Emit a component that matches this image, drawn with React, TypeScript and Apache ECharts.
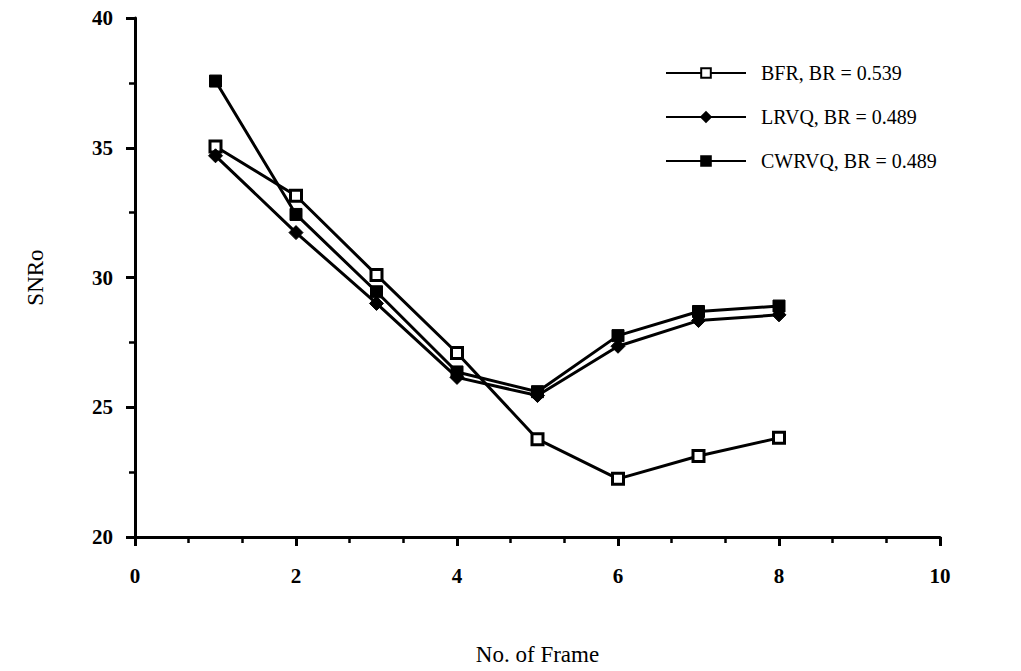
import React, { useEffect, useRef } from "react";
import * as echarts from "echarts";

const frames = [1, 2, 3, 4, 5, 6, 7, 8];
const bfr = [35.05, 33.15, 30.1, 27.09, 23.77, 22.24, 23.12, 23.82];
const lrvq = [34.69, 31.73, 29.0, 26.15, 25.45, 27.35, 28.34, 28.56];
const cwrvq = [37.57, 32.43, 29.45, 26.36, 25.6, 27.76, 28.69, 28.9];
const seriesNames = ["BFR, BR = 0.539", "LRVQ, BR = 0.489", "CWRVQ, BR = 0.489"];

const FONT = "Liberation Serif";

export default function App() {
  const ref = useRef<HTMLDivElement>(null);
  useEffect(() => {
    if (!ref.current) return;
    const chart = echarts.init(ref.current, null, { renderer: "svg" });
    const pts = (vals: number[]) => frames.map((f, i) => [f, vals[i]]);
    const lineStyle = { color: "#000", width: 3 };
    chart.setOption({
      animation: false,
      backgroundColor: "#fff",
      grid: { left: 135, right: 81, top: 18, bottom: 128 },
      legend: {
        orient: "vertical",
        left: 660,
        top: 58,
        itemWidth: 80,
        itemHeight: 12,
        itemGap: 24,
        textStyle: { fontFamily: FONT, fontSize: 20, color: "#000", padding: [0, 0, 0, 10] },
        data: seriesNames,
      },
      xAxis: {
        type: "value",
        min: 0,
        max: 10,
        interval: 2,
        name: "No. of Frame",
        nameLocation: "middle",
        nameGap: 106,
        nameTextStyle: { fontFamily: FONT, fontSize: 23, color: "#000" },
        axisLine: { show: true, lineStyle: { color: "#000", width: 3 } },
        axisTick: { show: true, length: 9, lineStyle: { color: "#000", width: 3 } },
        minorTick: { show: true, splitNumber: 3, length: 6, lineStyle: { color: "#000", width: 2.5 } },
        axisLabel: { fontFamily: FONT, fontSize: 21, fontWeight: "bold", color: "#000", margin: 28 },
        splitLine: { show: false },
      },
      yAxis: {
        type: "value",
        min: 20,
        max: 40,
        interval: 5,
        name: "SNRo",
        nameLocation: "middle",
        nameRotate: 90,
        nameGap: 88,
        nameTextStyle: { fontFamily: FONT, fontSize: 23, color: "#000" },
        axisLine: { show: true, lineStyle: { color: "#000", width: 3 } },
        axisTick: { show: true, length: 9, lineStyle: { color: "#000", width: 3 } },
        minorTick: { show: true, splitNumber: 2, length: 6, lineStyle: { color: "#000", width: 2.5 } },
        axisLabel: { fontFamily: FONT, fontSize: 21, fontWeight: "bold", color: "#000", margin: 22 },
        splitLine: { show: false },
      },
      series: [
        {
          name: seriesNames[0],
          type: "line",
          data: pts(bfr),
          symbol: "rect",
          symbolSize: 11,
          itemStyle: { color: "#fff", borderColor: "#000", borderWidth: 3 },
          lineStyle,
        },
        {
          name: seriesNames[1],
          type: "line",
          data: pts(lrvq),
          symbol: "diamond",
          symbolSize: 14,
          itemStyle: { color: "#000", borderColor: "#000", borderWidth: 1 },
          lineStyle,
        },
        {
          name: seriesNames[2],
          type: "line",
          data: pts(cwrvq),
          symbol: "rect",
          symbolSize: 12,
          itemStyle: { color: "#000", borderColor: "#000", borderWidth: 1 },
          lineStyle,
        },
      ],
    });
    return () => chart.dispose();
  }, []);
  return (
    <div
      ref={ref}
      style={{ position: "fixed", left: 0, top: 0, width: 1021, height: 671, background: "#fff" }}
    />
  );
}
